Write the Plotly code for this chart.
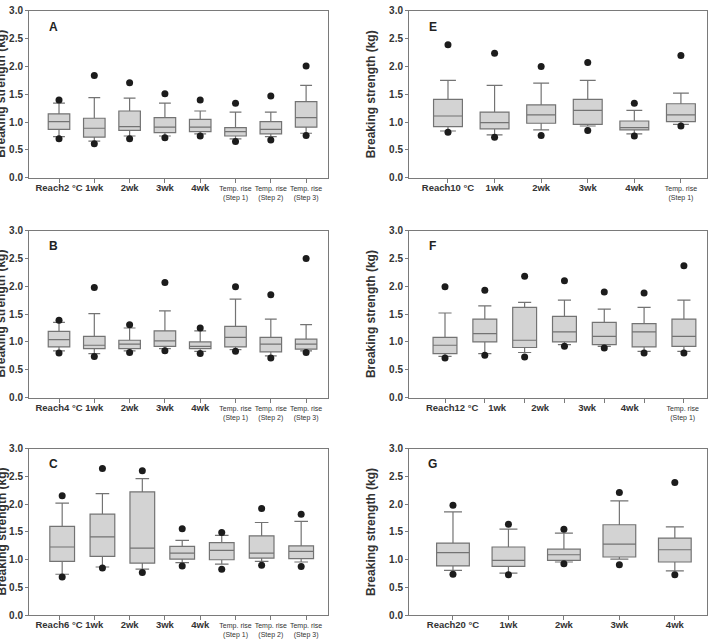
import plotly.graph_objects as go

W, H = 712, 641

# ---------------- data (kg) ----------------
STEP_LABELS = ["Temp. rise<br>(Step 1)", "Temp. rise<br>(Step 2)", "Temp. rise<br>(Step 3)"]
WEEKS = ["1wk", "2wk", "3wk", "4wk"]

# Panel A
A_labels = ["Reach2 °C"] + WEEKS + STEP_LABELS
A_hi_dot = [1.40, 1.84, 1.71, 1.51, 1.40, 1.34, 1.47, 2.01]
A_upper  = [1.34, 1.44, 1.43, 1.34, 1.20, 1.18, 1.18, 1.66]
A_q3     = [1.15, 1.07, 1.20, 1.08, 1.05, 0.90, 1.01, 1.37]
A_med    = [1.01, 0.89, 0.92, 0.91, 0.91, 0.83, 0.87, 1.08]
A_q1     = [0.87, 0.73, 0.85, 0.81, 0.83, 0.75, 0.79, 0.91]
A_lower  = [0.74, 0.66, 0.75, 0.75, 0.79, 0.70, 0.74, 0.80]
A_lo_dot = [0.70, 0.61, 0.70, 0.72, 0.75, 0.65, 0.68, 0.76]

# Panel B
B_labels = ["Reach4 °C"] + WEEKS + STEP_LABELS
B_hi_dot = [1.39, 1.98, 1.31, 2.07, 1.25, 1.99, 1.85, 2.50]
B_upper  = [1.35, 1.51, 1.25, 1.56, 1.20, 1.77, 1.41, 1.31]
B_q3     = [1.19, 1.10, 1.03, 1.20, 1.00, 1.28, 1.08, 1.05]
B_med    = [1.04, 0.94, 0.96, 1.02, 0.92, 1.08, 0.96, 0.96]
B_q1     = [0.91, 0.88, 0.88, 0.92, 0.88, 0.91, 0.82, 0.87]
B_lower  = [0.84, 0.79, 0.84, 0.88, 0.83, 0.86, 0.75, 0.84]
B_lo_dot = [0.80, 0.74, 0.81, 0.84, 0.79, 0.83, 0.71, 0.81]

# Panel C (7 boxes drawn under 8 labels)
C_labels = ["Reach6 °C"] + WEEKS + STEP_LABELS
C_hi_dot = [2.15, 2.64, 2.60, 1.56, 1.49, 1.92, 1.82]
C_upper  = [2.02, 2.19, 2.46, 1.35, 1.44, 1.67, 1.69]
C_q3     = [1.60, 1.82, 2.22, 1.24, 1.31, 1.43, 1.25]
C_med    = [1.23, 1.41, 1.21, 1.12, 1.17, 1.12, 1.15]
C_q1     = [0.97, 1.06, 0.94, 1.01, 1.00, 1.03, 1.02]
C_lower  = [0.74, 0.87, 0.83, 0.95, 0.92, 0.97, 0.96]
C_lo_dot = [0.69, 0.85, 0.77, 0.89, 0.83, 0.90, 0.88]

# Panel E
E_labels = ["Reach10 °C"] + WEEKS + STEP_LABELS[:1]
E_hi_dot = [2.39, 2.24, 2.00, 2.07, 1.34, 2.20]
E_upper  = [1.75, 1.66, 1.70, 1.75, 1.21, 1.52]
E_q3     = [1.41, 1.18, 1.31, 1.41, 1.02, 1.33]
E_med    = [1.11, 0.99, 1.13, 1.21, 0.90, 1.13]
E_q1     = [0.92, 0.88, 0.98, 0.96, 0.86, 1.01]
E_lower  = [0.84, 0.77, 0.86, 0.93, 0.79, 0.96]
E_lo_dot = [0.82, 0.73, 0.76, 0.85, 0.75, 0.93]

# Panel F (7 boxes drawn under 6 labels)
F_labels = ["Reach12 °C"] + WEEKS + STEP_LABELS[:1]
F_hi_dot = [1.99, 1.93, 2.18, 2.10, 1.90, 1.88, 2.37]
F_upper  = [1.52, 1.65, 1.71, 1.75, 1.59, 1.62, 1.75]
F_q3     = [1.08, 1.41, 1.62, 1.46, 1.35, 1.33, 1.41]
F_med    = [0.94, 1.15, 1.03, 1.18, 1.10, 1.18, 1.10]
F_q1     = [0.79, 1.00, 0.90, 1.00, 0.95, 0.91, 0.92]
F_lower  = [0.74, 0.79, 0.81, 0.95, 0.92, 0.83, 0.83]
F_lo_dot = [0.71, 0.76, 0.73, 0.92, 0.89, 0.80, 0.80]

# Panel G
G_labels = ["Reach20 °C"] + WEEKS
G_hi_dot = [1.98, 1.64, 1.55, 2.21, 2.39]
G_upper  = [1.86, 1.55, 1.48, 2.06, 1.59]
G_q3     = [1.30, 1.23, 1.19, 1.63, 1.39]
G_med    = [1.13, 0.99, 1.09, 1.28, 1.18]
G_q1     = [0.89, 0.88, 0.99, 1.05, 0.96]
G_lower  = [0.81, 0.76, 0.96, 1.01, 0.80]
G_lo_dot = [0.74, 0.73, 0.93, 0.91, 0.73]

Y_TITLE = "Breaking strength (kg)"

# ---------------- layout config ----------------
def seq(n):
    return [i + 1 for i in range(n)]

panels = [
    dict(letter="A", col=0, row=0, labels=A_labels, data=(A_hi_dot, A_upper, A_q3, A_med, A_q1, A_lower, A_lo_dot),
         box_x=seq(8), tick_x=seq(8), label_x=seq(8), rng=[0.15, 8.62], bw=0.61),
    dict(letter="B", col=0, row=1, labels=B_labels, data=(B_hi_dot, B_upper, B_q3, B_med, B_q1, B_lower, B_lo_dot),
         box_x=seq(8), tick_x=seq(8), label_x=seq(8), rng=[0.15, 8.62], bw=0.61),
    dict(letter="C", col=0, row=2, labels=C_labels, data=(C_hi_dot, C_upper, C_q3, C_med, C_q1, C_lower, C_lo_dot),
         box_x=[1.09, 2.23, 3.36, 4.49, 5.61, 6.74, 7.86], tick_x=seq(8), label_x=seq(8), rng=[0.15, 8.62], bw=0.70),
    dict(letter="E", col=1, row=0, labels=E_labels, data=(E_hi_dot, E_upper, E_q3, E_med, E_q1, E_lower, E_lo_dot),
         box_x=seq(6), tick_x=seq(6), label_x=seq(6), rng=[0.163, 6.56], bw=0.62),
    dict(letter="F", col=1, row=1, labels=F_labels, data=(F_hi_dot, F_upper, F_q3, F_med, F_q1, F_lower, F_lo_dot),
         box_x=seq(7), tick_x=seq(7), label_x=[1.18, 2.31, 3.39, 4.57, 5.64, 6.97], rng=[0.096, 7.58], bw=0.60),
    dict(letter="G", col=1, row=2, labels=G_labels, data=(G_hi_dot, G_upper, G_q3, G_med, G_q1, G_lower, G_lo_dot),
         box_x=seq(5), tick_x=seq(5), label_x=seq(5), rng=[0.207, 5.58], bw=0.59),
]

COL_PX = [(29, 328), (409, 707)]
ROW_PX = [(5, 175), (229, 399), (451, 621)]
TITLE_X_PX = [1.5, 371]

AXIS_COL = "#7a7a7a"
TEXT_COL = "#333333"
FONT = "Liberation Sans, Arial, sans-serif"

def px(x):
    return x / W

def py(y):
    return 1 - y / H

def fmt_label(s):
    if s.startswith("Temp."):
        return s
    return "<b><span style='font-size:9.5px'>" + s + "</span></b>"

fig = go.Figure()
layout = dict(
    width=W, height=H, margin=dict(l=0, r=0, t=0, b=0),
    paper_bgcolor="white", plot_bgcolor="white", showlegend=False,
    font=dict(family=FONT, color=TEXT_COL),
)
annotations = []
n = len(panels)

for i, p in enumerate(panels):
    k = i + 1
    kl = i + 1 + n
    xd = [px(COL_PX[p["col"]][0]), px(COL_PX[p["col"]][1])]
    yd = [py(ROW_PX[p["row"]][1]), py(ROW_PX[p["row"]][0])]
    hi, up, q3, med, q1, lo, lod = p["data"]

    fig.add_trace(go.Box(
        x=p["box_x"], q1=q1, median=med, q3=q3, lowerfence=lo, upperfence=up,
        width=p["bw"], whiskerwidth=0.55, boxpoints=False,
        fillcolor="#d3d3d3", line=dict(color="#737373", width=1.2),
        xaxis=f"x{k}", yaxis=f"y{k}", hoverinfo="skip",
    ))
    fig.add_trace(go.Scatter(
        x=list(p["box_x"]) + list(p["box_x"]), y=list(hi) + list(lod),
        mode="markers", marker=dict(color="#1c1c1c", size=7),
        xaxis=f"x{k}", yaxis=f"y{k}", hoverinfo="skip",
    ))
    # invisible carrier trace so the category-label axis is drawn
    fig.add_trace(go.Scatter(
        x=p["label_x"], y=[0] * len(p["label_x"]), mode="markers",
        marker=dict(opacity=0, size=1), xaxis=f"x{kl}", yaxis=f"y{k}", hoverinfo="skip",
    ))

    layout[f"xaxis{k}"] = dict(
        domain=xd, anchor=f"y{k}", range=p["rng"], showgrid=False, zeroline=False,
        showline=True, mirror=True, linecolor=AXIS_COL, linewidth=1,
        tickmode="array", tickvals=p["tick_x"], ticks="outside", ticklen=4,
        tickcolor=AXIS_COL, showticklabels=False,
    )
    layout[f"xaxis{kl}"] = dict(
        domain=xd, anchor=f"y{k}", overlaying=f"x{k}", side="bottom", range=p["rng"],
        showgrid=False, zeroline=False, showline=False, ticks="",
        tickmode="array", tickvals=p["label_x"], ticktext=[fmt_label(s) for s in p["labels"]],
        tickfont=dict(family=FONT, size=7, color=TEXT_COL), ticklabelstandoff=5,
    )
    layout[f"yaxis{k}"] = dict(
        domain=yd, anchor=f"x{k}", range=[0, 3], dtick=0.5, tick0=0, tickformat=".1f",
        showgrid=False, zeroline=False, showline=True, mirror=True,
        linecolor=AXIS_COL, linewidth=1, ticks="outside", ticklen=3, tickcolor=AXIS_COL,
        tickfont=dict(family=FONT, size=10, color=TEXT_COL, weight="bold"),
    )

    # panel letter
    annotations.append(dict(
        text=f"<b>{p['letter']}</b>", xref="paper", yref="paper",
        x=px(COL_PX[p["col"]][0] + 24), y=py(ROW_PX[p["row"]][0] + 16),
        xanchor="center", yanchor="middle", showarrow=False,
        font=dict(family=FONT, size=12, color="#222222"),
    ))
    # y-axis title
    annotations.append(dict(
        text=f"<b>{Y_TITLE}</b>", xref="paper", yref="paper",
        x=px(TITLE_X_PX[p["col"]]), y=(yd[0] + yd[1]) / 2,
        xanchor="center", yanchor="middle", textangle=-90, showarrow=False,
        font=dict(family=FONT, size=12, color=TEXT_COL),
    ))

layout["annotations"] = annotations
fig.update_layout(**layout)
fig.write_html("out.html")
